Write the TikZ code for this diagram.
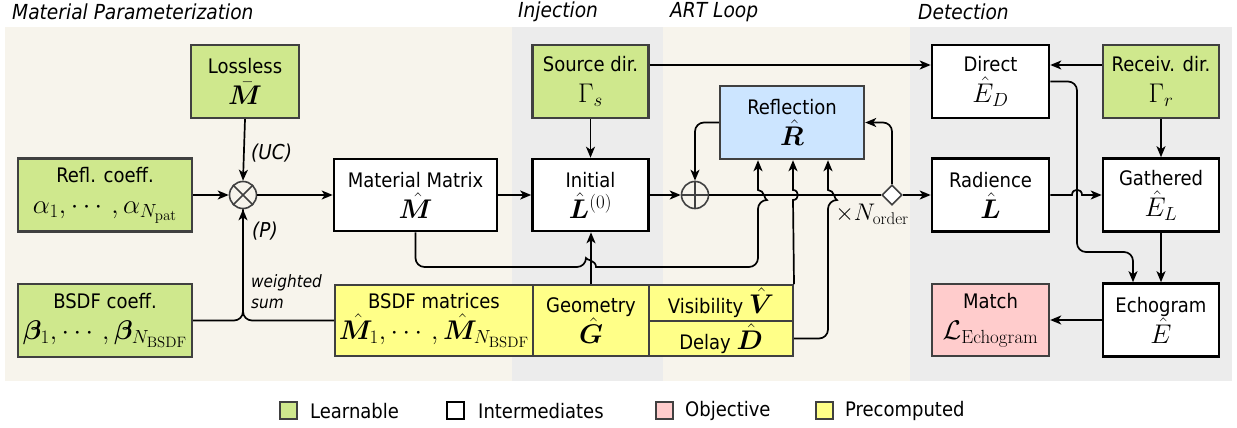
\RequirePackage{fix-cm}
\documentclass[tikz,border=0pt]{standalone}
\usepackage[no-math]{fontspec}
\setmainfont{DejaVu Sans Condensed}
\usepackage{amsmath,amssymb,bm}
\DeclareMathSizes{27}{27}{19}{15}
\DeclareMathSizes{24}{24}{17}{13}
\usetikzlibrary{arrows.meta,shapes.geometric}
\definecolor{bgbeige}{RGB}{247,244,236}
\definecolor{bggray}{RGB}{236,236,236}
\definecolor{learngreen}{RGB}{207,232,141}
\definecolor{boxgray}{RGB}{64,64,64}
\definecolor{reflblue}{RGB}{204,229,255}
\definecolor{objpink}{RGB}{255,204,204}
\definecolor{preyellow}{RGB}{255,255,136}
\newcommand{\mth}[1]{\fontsize{27}{31}\selectfont$#1$}
\begin{document}
\begin{tikzpicture}[x=1pt,y=-1pt,
  txt/.style={font=\fontsize{20}{31}\selectfont},
  blk/.style={draw, align=center, inner sep=0pt, txt},
  learn/.style={blk, fill=learngreen, draw=boxgray, line width=2.4pt},
  inter/.style={blk, fill=white, draw=black, line width=2.6pt},
  refbox/.style={blk, fill=reflblue, draw=boxgray, line width=2.4pt},
  objbox/.style={blk, fill=objpink, draw=boxgray, line width=2.4pt},
  prebox/.style={blk, fill=preyellow, draw=boxgray, line width=2pt},
  opcirc/.style={circle, draw=boxgray, line width=1.6pt, minimum size=27pt, inner sep=0pt},
  arr/.style={line width=1.7pt, -{Stealth[length=11pt,width=9pt,inset=3pt]}},
  ln/.style={line width=1.7pt},
  title/.style={font=\fontsize{20.7}{24}\selectfont\itshape, anchor=west, inner sep=0pt},
  lbl/.style={font=\fontsize{20.5}{24}\selectfont\itshape, anchor=west, inner sep=0pt},
  slbl/.style={font=\fontsize{17}{20}\selectfont\itshape, anchor=west, inner sep=0pt},
  legsq/.style={minimum size=17pt, inner sep=0pt, line width=2pt},
  legtxt/.style={font=\fontsize{20}{24}\selectfont, anchor=west, inner sep=0pt},
]
\useasboundingbox (0,0) rectangle (1237,428);
\fill[white] (0,0) rectangle (1237,428);
% backgrounds
\fill[bgbeige] (5,27) rectangle (512,381);
\fill[bggray] (512,27) rectangle (663,381);
\fill[bgbeige] (663,27) rectangle (910,381);
\fill[bggray] (910,27) rectangle (1232,381);
% titles
\node[title] (t1) at (12,12) {Material Parameterization};
\node[title] (t2) at (518,12) {Injection};
\node[title] (t3) at (670,12) {ART Loop};
\node[title] (t4) at (918,12) {Detection};

% nodes
\node[learn, minimum width=108pt, minimum height=73pt] (loss) at (245,81.5) {Lossless\\\mth{\bar{\bm{M}}}};
\node[learn, minimum width=174pt, minimum height=73pt] (refl) at (105,195) {Refl. coeff.\\\mth{\alpha_1,\cdots,\alpha_{N_{\mathrm{pat}}}}};
\node[learn, minimum width=174pt, minimum height=73pt] (bsdfc) at (105,320.5) {BSDF coeff.\\\mth{\bm{\beta}_1,\cdots,\bm{\beta}_{N_{\mathrm{BSDF}}}}};
\node[opcirc] (mult) at (243,195) {};
\draw[boxgray, line width=1.6pt] (mult.north east) -- (mult.south west) (mult.north west) -- (mult.south east);
\node[inter, minimum width=163pt, minimum height=72pt] (mm) at (415.5,195) {Material Matrix\\\mth{\hat{\bm{M}}}};
\node[inter, minimum width=116pt, minimum height=72pt] (init) at (590.5,195) {Initial\\\mth{\hat{\bm{L}}^{(0)}}};
\node[learn, minimum width=116pt, minimum height=73pt] (src) at (590.5,81.5) {Source dir.\\\mth{\Gamma_s}};
\node[opcirc] (plus) at (695,195) {};
\draw[boxgray, line width=1.6pt] (plus.north) -- (plus.south) (plus.west) -- (plus.east);
\node[refbox, minimum width=144pt, minimum height=73pt] (refln) at (792,122.5) {Reflection\\\mth{\hat{\bm{R}}}};
\node[diamond, draw=boxgray, fill=white, line width=1.6pt, minimum size=20pt, inner sep=0pt] (diam) at (892,195) {};
\node[font=\fontsize{24}{26}\selectfont, inner sep=0pt] (nord) at (872,214) {$\times N_{\mathrm{order}}$};
\node[inter, minimum width=117pt, minimum height=73pt] (direct) at (990.5,81.5) {Direct\\\mth{\hat{E}_D}};
\node[learn, minimum width=116pt, minimum height=73pt] (recv) at (1161,81.5) {Receiv. dir.\\\mth{\Gamma_r}};
\node[inter, minimum width=117pt, minimum height=73pt] (rad) at (990.5,195) {Radience\\\mth{\hat{\bm{L}}}};
\node[inter, minimum width=116pt, minimum height=73pt] (gath) at (1161,195) {Gathered\\\mth{\hat{E}_L}};
\node[inter, minimum width=116pt, minimum height=73pt] (echo) at (1161,320) {Echogram\\\mth{\hat{E}}};
\node[objbox, minimum width=117pt, minimum height=72pt] (match) at (990.5,320) {Match\\\mth{\mathcal{L}_{\mathrm{Echogram}}}};
\node[prebox, minimum width=198pt, minimum height=71pt] (bsdfm) at (434,320.5) {BSDF matrices\\\mth{\hat{\bm{M}}_1,\cdots,\hat{\bm{M}}_{N_{\mathrm{BSDF}}}}};
\node[prebox, minimum width=116pt, minimum height=71pt] (geom) at (591,320.5) {Geometry\\\mth{\hat{\bm{G}}}};
\node[prebox, minimum width=144pt, minimum height=35.5pt] (vis) at (721,303) {Visibility \mth{\hat{\bm{V}}}};
\node[prebox, minimum width=144pt, minimum height=35.5pt] (delay) at (721,338.5) {Delay \mth{\hat{\bm{D}}}};

% labels
\node[lbl] (uc) at (251,153) {(UC)};
\node[lbl] (pp) at (252,231) {(P)};
\node[slbl] (ws1) at (251,283) {weighted};
\node[slbl] (ws2) at (251,304) {sum};

% connectors
\draw[arr] (loss.south) -- (mult.north);
\draw[arr] (refl.east) -- (mult.west);
\draw[arr] (mult.east) -- (mm.west);
\draw[arr, rounded corners=9pt] (bsdfc.east) -| (mult.south);
\draw[ln, rounded corners=9pt] (bsdfm.west) -| (mult.south);
\draw[arr] (mm.east) -- (init.west);
\draw[arr] (src.south) -- (init.north);
\draw[arr] (geom.north) -- (geom.north |- init.south);
\draw[arr] (mm.south) [rounded corners=9pt] -- (415.5,267) -- (586,267) [sharp corners] .. controls (586,260) and (596,260) .. (596,267) [rounded corners=9pt] -- (758,267) -- (758,200) [sharp corners] .. controls (764.5,200) and (764.5,190) .. (758,190) -- ([xshift=-34pt]refln.south);
\draw[arr] (vis.north east) -- (793,200) .. controls (799.5,200) and (799.5,190) .. (793,190) -- ([xshift=1pt]refln.south);
\draw[arr] (delay.east) [rounded corners=9pt] -- (828,338.5) -- (828,200) [sharp corners] .. controls (834.5,200) and (834.5,190) .. (828,190) -- ([xshift=36pt]refln.south);
\draw[arr, rounded corners=9pt] (refln.west) -| (plus.north);
\draw[arr] (init.east) -- (plus.west);
\draw[ln] (plus.east) -- (diam.west);
\draw[arr] (diam.east) -- (rad.west);
\draw[arr, rounded corners=9pt] (diam.north) |- (refln.east);
\draw[arr] ([yshift=16.5pt]src.east) -- ([yshift=16.5pt]direct.west);
\draw[arr] ([yshift=16.5pt]recv.west) -- ([yshift=16.5pt]direct.east);
\draw[arr] (recv.south) -- (gath.north);
\draw[arr, rounded corners=9pt] (direct.east) -- (1077,81.5) -- (1077,252) -| ([xshift=-28pt]echo.north);
\draw[arr] (rad.east) -- (1072,195) .. controls (1072,188) and (1082,188) .. (1082,195) -- (gath.west);
\draw[arr] (gath.south) -- (echo.north);
\draw[arr] (echo.west) -- (match.east);

% legend
\node[legsq, fill=learngreen, draw=boxgray] (lg1) at (288,410.5) {};
\node[legtxt] (lt1) at (310,411) {Learnable};
\node[legsq, fill=white, draw=black] (lg2) at (455.5,410.5) {};
\node[legtxt] (lt2) at (478,411) {Intermediates};
\node[legsq, fill=objpink, draw=boxgray] (lg3) at (664,410.5) {};
\node[legtxt] (lt3) at (685,411) {Objective};
\node[legsq, fill=preyellow, draw=boxgray] (lg4) at (824.5,410.5) {};
\node[legtxt] (lt4) at (845,411) {Precomputed};
\end{tikzpicture}
\end{document}
